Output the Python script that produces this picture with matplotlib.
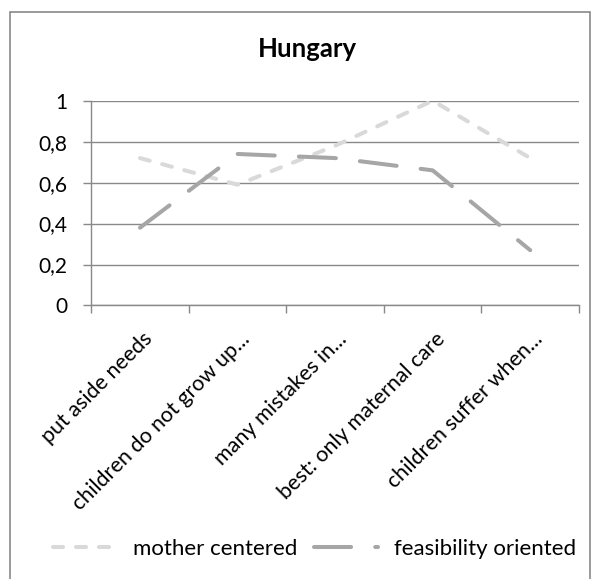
import matplotlib.pyplot as plt
from matplotlib.patches import Rectangle
from matplotlib.transforms import ScaledTranslation

# attitude items and mean scores for the two clusters
items = ['put aside needs', 'children do not grow up...', 'many mistakes in...',
         'best: only maternal care', 'children suffer when...']
mother_centered = [0.72, 0.59, 0.78, 1.0, 0.72]
feasibility_oriented = [0.38, 0.74, 0.72, 0.66, 0.27]
y_ticks = [0, 0.2, 0.4, 0.6, 0.8, 1]

plt.rcParams['font.family'] = ['Lato', 'DejaVu Sans']

fig = plt.figure(figsize=(6, 5.79), dpi=100)
ax = fig.add_axes([0.152, 0.4724, 0.813, 0.3536])

x = range(len(items))
ax.plot(x, mother_centered, color='#d9d9d9', lw=2.9, label='mother centered',
        dashes=(2.5, 3.2), dash_capstyle='round', solid_capstyle='round')
ax.plot(x, feasibility_oriented, color='#a6a6a6', lw=2.9, label='feasibility oriented',
        dashes=(9.2, 6.0), dash_capstyle='round', solid_capstyle='round')

ax.set_xlim(-0.5, len(items) - 0.5)
ax.set_ylim(0, 1)
ax.set_yticks(y_ticks)
ax.set_yticklabels([f'{v:g}'.replace('.', ',') for v in y_ticks])
ax.yaxis.grid(True, color='#898989', lw=1.0)
ax.set_axisbelow(True)

# category boundaries carry the tick marks, labels sit at the centres
ax.set_xticks([i - 0.5 for i in range(len(items) + 1)])
ax.set_xticklabels([])
ax.set_xticks(list(x), minor=True)
ax.set_xticklabels(items, minor=True, rotation=45, ha='right', va='center',
                   rotation_mode='anchor', fontsize=15.5)
ax.tick_params(axis='x', which='minor', length=0, pad=22)
ax.tick_params(axis='x', which='major', length=6, color='#898989', width=1.0)
ax.tick_params(axis='y', length=6, color='#898989', width=1.0, labelsize=15, pad=11)
shift = ScaledTranslation(0.09, 0, fig.dpi_scale_trans)
for lbl in ax.get_xticklabels(minor=True):
    lbl.set_transform(lbl.get_transform() + shift)

for side in ['top', 'right']:
    ax.spines[side].set_visible(False)
for side in ['left', 'bottom']:
    ax.spines[side].set_color('#898989')
    ax.spines[side].set_linewidth(1.0)

fig.text(0.513, 0.9016, 'Hungary', ha='center', va='baseline', fontsize=18.5, fontweight='bold')

fig.legend(loc='center', bbox_to_anchor=(0.524, 0.052), ncol=2, frameon=False,
           fontsize=16, handlelength=2.9, handletextpad=0.7, columnspacing=0.75)

# chart area border
fig.patches.append(Rectangle((10 / 600, -0.02), 580 / 600, 1 - 12 / 579 + 0.02,
                             transform=fig.transFigure, fill=False,
                             edgecolor='#898989', lw=1.2))

fig.savefig('out.png', dpi=100)
